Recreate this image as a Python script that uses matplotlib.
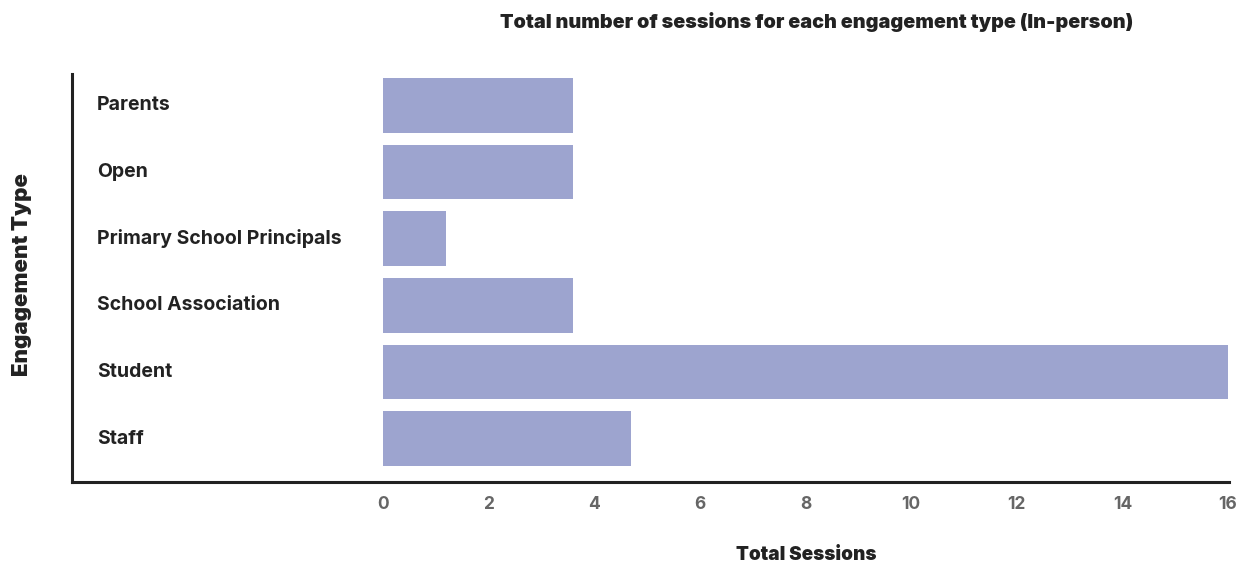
import matplotlib

matplotlib.use("Agg")
import matplotlib.pyplot as plt
from matplotlib.transforms import blended_transform_factory

# sessions per engagement type, top to bottom
engagement_types = [
    "Parents",
    "Open",
    "Primary School Principals",
    "School Association",
    "Student",
    "Staff",
]
total_sessions = [3.6, 3.6, 1.2, 3.6, 16, 4.7]
x_ticks = [0, 2, 4, 6, 8, 10, 12, 14, 16]

BAR = "#9da4cf"
INK = "#222222"
MUTED = "#666666"
W, H = 1240, 565

plt.rcParams["font.family"] = ["Inter", "DejaVu Sans"]

fig = plt.figure(figsize=(W / 100, H / 100), dpi=100)
ax = fig.add_axes([72 / W, 1 - 482 / H, (1229 - 72) / W, (482 - 74) / H])

positions = list(range(len(engagement_types)))
ax.barh(positions, total_sessions, height=0.82, color=BAR, zorder=2)
# the category labels sit inside the plot, left of the zero line
ax.set_xlim(-5.89, 16.02)
ax.set_ylim(5.65, -0.47)

ax.set_yticks([])
ax.set_xticks(x_ticks, [str(t) for t in x_ticks])
ax.tick_params(axis="x", length=0, pad=10, labelsize=12.5, labelcolor=MUTED)
for label in ax.get_xticklabels():
    label.set_fontweight("bold")

label_tf = blended_transform_factory(ax.transAxes, ax.transData)
for pos, name in zip(positions, engagement_types):
    ax.text(25 / (1229 - 72), pos, name, transform=label_tf, ha="left",
            va="center", fontsize=14, fontweight="bold", color=INK)

for side in ("top", "right"):
    ax.spines[side].set_visible(False)
for side in ("left", "bottom"):
    ax.spines[side].set_linewidth(2.2)
    ax.spines[side].set_color(INK)

fig.text(817 / W, 1 - 22 / H,
         "Total number of sessions for each engagement type (In-person)",
         ha="center", va="center", fontsize=14.2, fontweight="black", color=INK)
fig.text(806 / W, 1 - 555 / H, "Total Sessions", ha="center", va="center",
         fontsize=13.6, fontweight="black", color=INK)
fig.text(22 / W, 1 - 274 / H, "Engagement Type", ha="center", va="center",
         rotation=90, fontsize=16, fontweight="black", color=INK)

fig.savefig("out.png", dpi=100, facecolor="white")
